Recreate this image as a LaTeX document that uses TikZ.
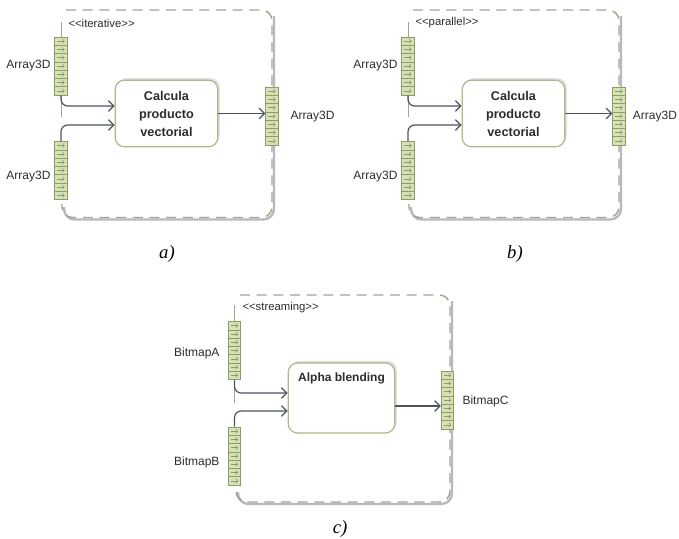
\documentclass[tikz,border=0pt]{standalone}
\usepackage{fontspec}
\setsansfont{Liberation Sans}
\newfontfamily\capfont{Liberation Serif}
\usetikzlibrary{arrows.meta,calc,shadows}

\definecolor{pinfill}{RGB}{214,226,180}
\definecolor{pinline}{RGB}{140,156,100}
\definecolor{pinarrow}{RGB}{140,150,120}
\definecolor{regiondash}{RGB}{160,166,140}
\definecolor{regionshade}{RGB}{182,186,192}
\definecolor{flowline}{RGB}{75,82,98}
\definecolor{actline}{RGB}{178,180,140}
\definecolor{txt}{RGB}{45,45,45}

\tikzset{every picture/.style={line width=0.75pt}}
\tikzset{
  pinbox/.style={draw=pinline, fill=pinfill, line width=0.6pt, minimum width=9.5pt, minimum height=43.5pt, inner sep=0pt,
    path picture={
      \foreach \k in {1,...,6}
        \draw[pinline, line width=0.4pt] ($(path picture bounding box.north west)!\k/7!(path picture bounding box.south west)$) -- ($(path picture bounding box.north east)!\k/7!(path picture bounding box.south east)$);
      \foreach \k [evaluate=\k as \f using (\k+0.5)/7] in {0,...,6}
        \draw[pinarrow, line width=0.4pt, -{Straight Barb[length=1.5pt,width=3pt]}] ($(path picture bounding box.north west)!\f!(path picture bounding box.south west)+(2.5,0)$) -- ++(7.5,0);
    }},
  actbox/.style={draw=actline, fill=white, rounded corners=7pt, line width=0.9pt,
    drop shadow={shadow xshift=1.5pt, shadow yshift=1.5pt, fill=black!25},
    minimum width=77pt, minimum height=50pt, align=center, inner sep=2pt,
    font=\sffamily\bfseries\fontsize{9.5}{13.5}\selectfont, text=txt},
  acttext/.style={anchor=north, inner sep=0pt, font=\sffamily\bfseries\fontsize{9}{11}\selectfont, text=txt},
  stereo/.style={anchor=west, inner sep=0pt, font=\sffamily\fontsize{8.5}{10}\selectfont, text=txt},
  lbl/.style={inner sep=0pt, font=\sffamily\fontsize{9}{11}\selectfont, text=txt},
  captext/.style={inner sep=0pt, font=\capfont\itshape\fontsize{14}{16}\selectfont},
  flow/.style={draw=flowline, line width=0.9pt, rounded corners=5pt, -{Straight Barb[length=4pt,width=8pt]}},
  regionedge/.style={draw=regiondash, line width=0.7pt},
  regionshade/.style={draw=regionshade, line width=1.8pt, rounded corners=8pt},
  regionline/.style={draw=regiondash, line width=1.1pt, dash pattern=on 7.5pt off 5pt, rounded corners=8pt}
}

\begin{document}
\begin{tikzpicture}[x=0.75pt,y=0.75pt,yscale=-1,xscale=1]
\useasboundingbox (0,0) rectangle (679,539);

% a) iterative
\draw[regionedge] (61,22) -- (61,117);
\draw[regionshade] (274,16) -- (274,219.5) -- (64,219.5) -- (64,207);
\draw[regionline] (66,10) -- (272,10) -- (272,217.5) -- (62,217.5) -- (62,204);
\node[stereo] (sta) at (68,23) {<{}<iterative>{}>};
\node[pinbox] (pa1) at (61,66) {};
\node[pinbox] (pa2) at (61,170.5) {};
\node[pinbox] (pa3) at (272,116) {};
\node[lbl, anchor=east] (la1) at (51,66) {Array3D};
\node[lbl, anchor=east] (la2) at (51,177) {Array3D};
\node[lbl, anchor=west] (la3) at (290,117) {Array3D};
\node[actbox] (acta) at (166.5,113.5) {Calcula\\producto\\vectorial};
\draw[flow] (pa1.south) |- ($(acta.west)+(0,-7.5)$);
\draw[flow] (pa2.north) |- ($(acta.west)+(0,11.5)$);
\draw[flow] (acta.east) -- (acta.east -| pa3.west);

% b) parallel
\begin{scope}[shift={(347,0)}]
\draw[regionedge] (61,22) -- (61,117);
\draw[regionshade] (274,16) -- (274,219.5) -- (64,219.5) -- (64,207);
\draw[regionline] (66,10) -- (272,10) -- (272,217.5) -- (62,217.5) -- (62,204);
\node[stereo] (stb) at (68,23) {<{}<parallel>{}>};
\node[pinbox] (pb1) at (61,66) {};
\node[pinbox] (pb2) at (61,170.5) {};
\node[pinbox] (pb3) at (272,116) {};
\node[lbl, anchor=east] (lb1) at (51,66) {Array3D};
\node[lbl, anchor=east] (lb2) at (51,177) {Array3D};
\node[lbl, anchor=east] (lb3) at (330.5,117) {Array3D};
\node[actbox] (actb) at (166.5,113.5) {Calcula\\producto\\vectorial};
\draw[flow] (pb1.south) |- ($(actb.west)+(0,-7.5)$);
\draw[flow] (pb2.north) |- ($(actb.west)+(0,11.5)$);
\draw[flow] (actb.east) -- (actb.east -| pb3.west);
\end{scope}

% c) streaming
\draw[regionedge] (234,305) -- (234,403);
\draw[regionshade] (452,301) -- (452,504) -- (238,504) -- (238,492);
\draw[regionline] (240,295) -- (450,295) -- (450,502) -- (236,502) -- (236,489);
\node[stereo] (stc) at (242,308) {<{}<streaming>{}>};
\node[pinbox] (pc1) at (234.5,350.5) {};
\node[pinbox] (pc2) at (234.5,456) {};
\node[pinbox] (pc3) at (447.5,400) {};
\node[lbl, anchor=east] (lc1) at (220,353) {BitmapA};
\node[lbl, anchor=east] (lc2) at (220,462) {BitmapB};
\node[lbl, anchor=west] (lc3) at (462,401) {BitmapC};
\node[actbox, minimum width=80pt, minimum height=52.5pt] (actc) at (341.5,398) {};
\node[acttext] (txc) at ($(actc.north)+(0,10)$) {Alpha blending};
\draw[flow] (pc1.south) |- ($(actc.west)+(0,-5)$);
\draw[flow] (pc2.north) |- ($(actc.west)+(0,13)$);
\coordinate (outc) at ($(actc.east)+(0,8)$);
\draw[flow] (outc) -- (outc -| pc3.west);

% captions
\node[captext] (capa) at (167,254) {a)};
\node[captext] (capb) at (515,254) {b)};
\node[captext] (capc) at (340,529) {c)};

\end{tikzpicture}
\end{document}
